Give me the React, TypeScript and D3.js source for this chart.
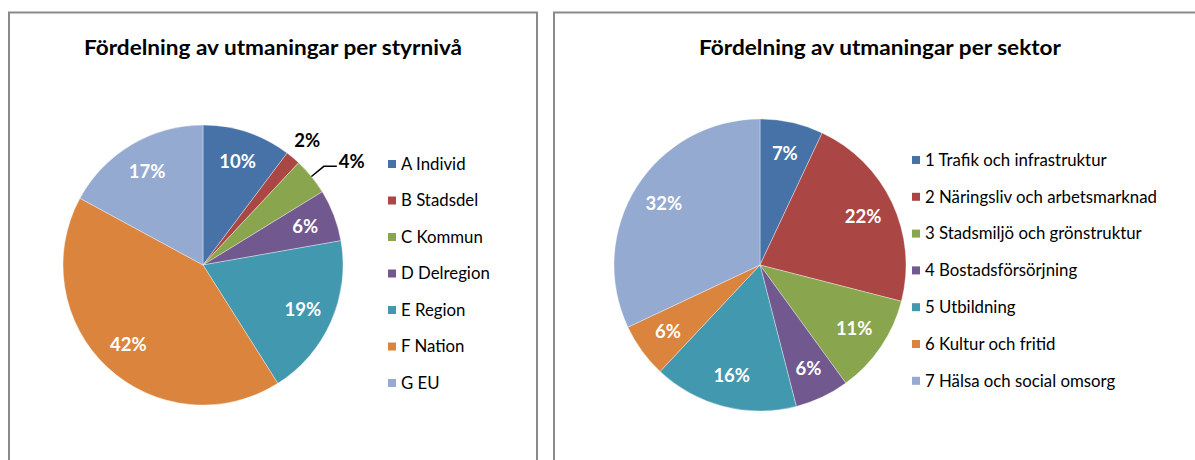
import * as d3 from 'd3';

// left chart: counts per governance level
const levelNames = ['A Individ', 'B Stadsdel', 'C Kommun', 'D Delregion', 'E Region', 'F Nation', 'G EU'];
const levelValues = [12, 2, 5, 7, 22, 49, 20];

// right chart: share per sector (%)
const sectorNames = [
  '1 Trafik och infrastruktur',
  '2 Näringsliv och arbetsmarknad',
  '3 Stadsmiljö och grönstruktur',
  '4 Bostadsförsörjning',
  '5 Utbildning',
  '6 Kultur och fritid',
  '7 Hälsa och social omsorg',
];
const sectorValues = [7, 22, 11, 6, 16, 6, 32];

const palette = ['#4672A8', '#AA4644', '#89A54E', '#71588F', '#4198AF', '#DB843D', '#94AAD0'];

const FONT = 'Lato, "Open Sans", sans-serif';

interface PieProps {
  title: string;
  titleX: number;
  titleW: number;
  names: string[];
  values: number[];
  cx: number;
  cy: number;
  r: number;
  legendX: number;
  legendY0: number;
  legendStep: number;
  outside?: { [i: number]: 'plain' | 'leader' };
}

function PieChart(p: PieProps) {
  const pie = d3.pie<number>().sort(null).value(d => d);
  const arcs = pie(p.values);
  const total = d3.sum(p.values);
  const arc = d3.arc<d3.PieArcDatum<number>>().innerRadius(0).outerRadius(p.r);
  const labelArc = d3.arc<d3.PieArcDatum<number>>().innerRadius(p.r * 0.78).outerRadius(p.r * 0.78);
  const color = d3.scaleOrdinal<number, string>().domain(d3.range(p.values.length)).range(palette);
  const ly = d3.scaleLinear().domain([0, 1]).range([p.legendY0, p.legendY0 + p.legendStep]);
  const pct = (v: number) => `${Math.round((v / total) * 100)}%`;

  return (
    <g>
      <text x={p.titleX} y={55} textAnchor="middle" fontFamily={FONT} fontWeight="bold" fontSize={21}
        textLength={p.titleW} lengthAdjust="spacingAndGlyphs" fill="#000">{p.title}</text>
      <g transform={`translate(${p.cx},${p.cy})`}>
        {arcs.map((a, i) => (
          <path key={i} d={arc(a) || ''} fill={color(i)} stroke="#fff" strokeWidth={0.6} strokeOpacity={0.6} />
        ))}
        {arcs.map((a, i) => {
          const mode = p.outside ? p.outside[i] : undefined;
          const mid = (a.startAngle + a.endAngle) / 2;
          if (mode === 'plain') {
            const d = p.r + 22;
            return (
              <text key={i} x={d * Math.sin(mid)} y={-d * Math.cos(mid)} dy="0.35em" textAnchor="middle"
                fontFamily={FONT} fontWeight="bold" fontSize={18.5} fill="#000">{pct(a.value)}</text>
            );
          }
          if (mode === 'leader') {
            const x0 = p.r * Math.sin(mid), y0 = -p.r * Math.cos(mid);
            const x1 = (p.r + 16) * Math.sin(mid), y1 = -(p.r + 16) * Math.cos(mid);
            const x2 = x1 + 13;
            return (
              <g key={i}>
                <path d={`M${x0},${y0}L${x1},${y1}L${x2},${y1}`} fill="none" stroke="#000" strokeWidth={1.5} />
                <text x={x2 + 2} y={y1 - 5} dy="0.35em" fontFamily={FONT} fontWeight="bold" fontSize={18.5} fill="#000">{pct(a.value)}</text>
              </g>
            );
          }
          const [lx, lyy] = labelArc.centroid(a);
          return (
            <text key={i} x={lx} y={lyy} dy="0.35em" textAnchor="middle" fontFamily={FONT} fontWeight="bold"
              fontSize={18.5} fill="#fff">{pct(a.value)}</text>
          );
        })}
      </g>
      {p.names.map((n, i) => (
        <g key={n} transform={`translate(${p.legendX},${ly(i)})`}>
          <rect x={0} y={-4} width={8} height={8} fill={color(i)} />
          <text x={13} y={0} dy="0.35em" fontFamily={FONT} fontSize={16.8} fill="#000">{n}</text>
        </g>
      ))}
    </g>
  );
}

export default function App() {
  return (
    <svg width={1195} height={460} style={{ position: 'absolute', left: 0, top: 0, background: '#fff' }}>
      <rect x={9} y={12.5} width={528} height={470} fill="#fff" stroke="#8a8a8a" strokeWidth={2} />
      <rect x={554} y={12.5} width={660} height={470} fill="#fff" stroke="#8a8a8a" strokeWidth={2} />
      <PieChart
        title="Fördelning av utmaningar per styrnivå"
        titleX={273}
        titleW={378}
        names={levelNames}
        values={levelValues}
        cx={203}
        cy={265}
        r={140}
        legendX={388}
        legendY0={164}
        legendStep={36.5}
        outside={{ 1: 'plain', 2: 'leader' }}
      />
      <PieChart
        title="Fördelning av utmaningar per sektor"
        titleX={880}
        titleW={362}
        names={sectorNames}
        values={sectorValues}
        cx={760}
        cy={265}
        r={146}
        legendX={912}
        legendY0={160}
        legendStep={36.8}
      />
    </svg>
  );
}
